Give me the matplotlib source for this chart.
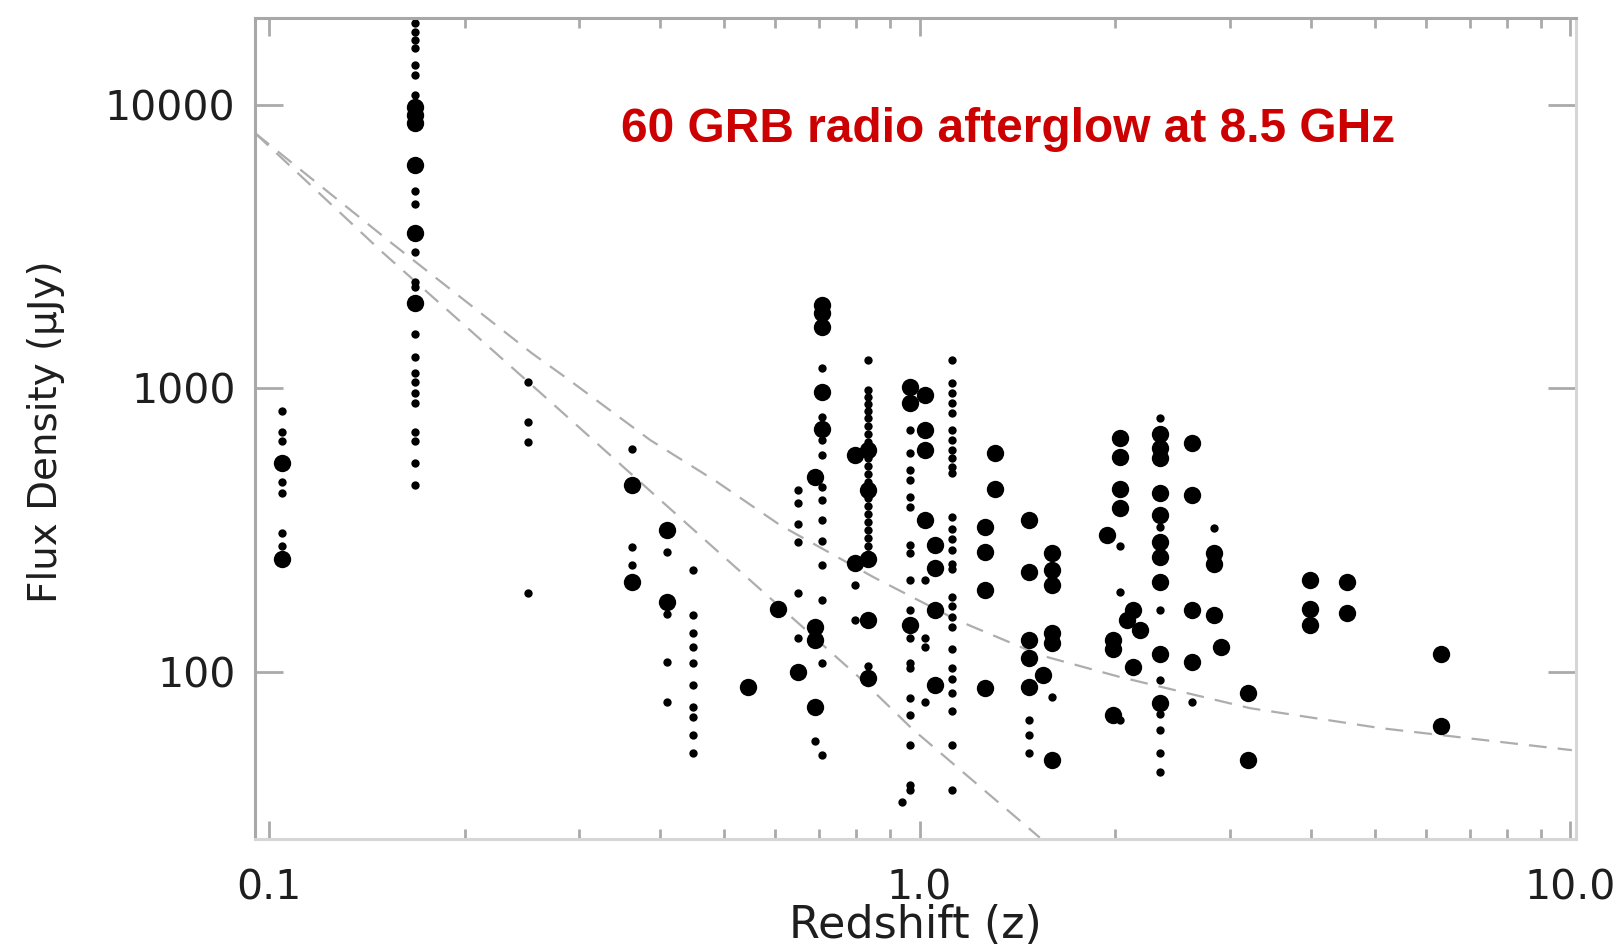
import matplotlib.pyplot as plt
from matplotlib import font_manager
from matplotlib.ticker import LogLocator, NullFormatter, NullLocator

# large dots: redshift and 8.5 GHz flux density (uJy)
big_z = [0.105, 0.105,
         0.168, 0.168, 0.168, 0.168, 0.168, 0.168,
         0.362, 0.362, 0.409, 0.409, 0.545, 0.607, 0.650,
         0.692, 0.692, 0.692, 0.692,
         0.708, 0.708, 0.708, 0.708, 0.708,
         0.797, 0.797,
         0.832, 0.832, 0.832, 0.832, 0.832,
         0.968, 0.968, 0.968,
         1.02, 1.02, 1.02, 1.02,
         1.057, 1.057, 1.057, 1.057,
         1.262, 1.262, 1.262, 1.262,
         1.307, 1.307,
         1.474, 1.474, 1.474, 1.474, 1.474,
         1.549,
         1.599, 1.599, 1.599, 1.599, 1.599, 1.599,
         1.942, 1.984, 1.984, 1.984,
         2.034, 2.034, 2.034, 2.034,
         2.085, 2.13, 2.13, 2.18,
         2.34, 2.34, 2.34, 2.34, 2.34, 2.34, 2.34, 2.34, 2.34, 2.34,
         2.62, 2.62, 2.62, 2.62,
         2.83, 2.83, 2.83, 2.91,
         3.20, 3.20,
         3.98, 3.98, 3.98,
         4.53, 4.53,
         6.33, 6.33]
big_flux = [544, 250,
            9860, 9220, 8610, 6140, 3525, 1995,
            456, 208, 316, 177, 88.5, 167, 100,
            488, 144, 129, 75,
            1968, 1850, 1651, 973, 717,
            582, 242,
            606, 438, 250, 152, 95,
            1015, 885, 146,
            947, 713, 606, 343,
            280, 232, 165, 90,
            325, 265, 195, 87.4,
            590, 443,
            343, 225, 129, 111.5, 88.5,
            97.3,
            262, 229, 202, 137, 126, 48.8,
            304, 129, 120, 70.3,
            666, 574, 443, 377,
            152, 165, 104, 141,
            693, 614, 566, 426, 357, 288, 255, 208, 116, 77.3,
            640, 420, 165, 108.5,
            262, 241, 158, 122,
            84, 48.8,
            211, 167, 146,
            208, 161,
            116, 64.2]

# small dots
small_z = [0.105, 0.105, 0.105, 0.105, 0.105, 0.105, 0.105,
           0.168, 0.168, 0.168, 0.168, 0.168, 0.168, 0.168, 0.168, 0.168, 0.168, 0.168,
           0.168, 0.168, 0.168, 0.168, 0.168, 0.168, 0.168, 0.168, 0.168, 0.168, 0.168,
           0.25, 0.25, 0.25, 0.25,
           0.362, 0.362, 0.362,
           0.409, 0.409, 0.409, 0.409,
           0.449, 0.449, 0.449, 0.449, 0.449, 0.449, 0.449, 0.449, 0.449, 0.449,
           0.650, 0.650, 0.650, 0.650, 0.650, 0.650,
           0.692,
           0.708, 0.708, 0.708, 0.708, 0.708, 0.708, 0.708, 0.708, 0.708, 0.708, 0.708, 0.708,
           0.797, 0.797,
           0.832, 0.832, 0.832, 0.832, 0.832, 0.832, 0.832, 0.832, 0.832, 0.832, 0.832, 0.832,
           0.832, 0.832, 0.832, 0.832, 0.832, 0.832, 0.832, 0.832, 0.832, 0.832, 0.832, 0.832,
           0.94,
           0.968, 0.968, 0.968, 0.968, 0.968, 0.968, 0.968, 0.968, 0.968,
           0.968, 0.968, 0.968, 0.968, 0.968, 0.968, 0.968, 0.968, 0.968,
           1.02, 1.02, 1.02, 1.02,
           1.12, 1.12, 1.12, 1.12, 1.12, 1.12, 1.12, 1.12, 1.12, 1.12, 1.12, 1.12, 1.12, 1.12,
           1.12, 1.12, 1.12, 1.12, 1.12, 1.12, 1.12, 1.12, 1.12, 1.12, 1.12, 1.12, 1.12, 1.12,
           1.474, 1.474, 1.474,
           1.599,
           2.034, 2.034, 2.034,
           2.34, 2.34, 2.34, 2.34, 2.34, 2.34, 2.34, 2.34,
           2.62,
           2.83]
small_flux = [830, 700, 650, 468, 426, 308, 278,
              19500, 18150, 16950, 15850, 13840, 12760, 10840, 4985, 4480, 3035, 2380,
              2285, 1553, 1294, 1130, 1055, 960, 885, 700, 650, 545, 455,
              1055, 760, 646, 189,
              611, 276, 238,
              265, 160, 108, 78,
              229, 158, 137, 122, 107, 90, 75, 69, 60, 51.5,
              437, 395, 331, 288, 189, 132,
              57,
              1177, 794, 657, 582, 450, 403, 343, 290, 238, 179, 107, 51,
              202, 152,
              1259, 986, 930, 880, 830, 786, 737, 690, 647, 606, 568, 532,
              499, 467, 438, 410, 385, 360, 338, 316, 297, 278, 260, 105,
              34.8,
              713, 590, 515, 475, 415, 382, 280, 262, 211,
              165, 132, 107, 103.5, 80.6, 70.3, 55.1, 39.8, 38.2,
              211, 132, 122, 78,
              1259, 1042, 960, 885, 816, 713, 658, 606, 568, 530, 503, 351, 320, 295,
              269, 241, 230, 183, 170, 156, 144, 120, 103, 94, 84, 72.7, 55.1, 38.2,
              67.6, 59.8, 51.5,
              81.7,
              278, 192, 67.6,
              784, 325, 165, 93.6, 71.1, 62.5, 51.5, 44.2,
              78,
              321]

# the two dashed flux curves
upper_z = [0.0954, 0.1547, 0.2539, 0.2873, 0.3858, 0.4884, 0.611, 0.849,
           1.143, 1.532, 2.034, 3.22, 5.10, 10.05]
upper_flux = [7946, 3250, 1330, 1085, 657, 468, 329, 216,
              152, 114.5, 95.8, 74.4, 63.3, 52.9]
lower_z = [0.0954, 0.1493, 0.2692, 0.5, 0.806, 0.973, 1.189, 1.53]
lower_flux = [7946, 3035, 910, 255, 96, 63.1, 42.6, 26]

x_ticks = [0.1, 1, 10]
x_labels = ['0.1', '1.0', '10.0']
y_ticks = [100, 1000, 10000]
y_labels = ['100', '1000', '10000']

text_color = '#1e1e1e'

fig = plt.figure(figsize=(16.22, 9.49), dpi=100)
ax = fig.add_axes([0.1572, 0.1159, 0.8143, 0.8648])
ax.set_xscale('log')
ax.set_yscale('log')
ax.set_xlim(0.0953, 10.19)
ax.set_ylim(25.7, 20230)

ax.plot(upper_z, upper_flux, color='#adadad', lw=1.6, dashes=(8, 5), zorder=1)
ax.plot(lower_z, lower_flux, color='#adadad', lw=1.6, dashes=(8, 5), zorder=1)
ax.plot(small_z, small_flux, 'o', color='black', ms=6, mew=0, zorder=2)
ax.plot(big_z, big_flux, 'o', color='black', ms=12.5, mew=0, zorder=3)

ax.set_xticks(x_ticks)
ax.set_xticklabels(x_labels)
ax.xaxis.set_minor_locator(LogLocator(base=10, subs=range(2, 10)))
ax.xaxis.set_minor_formatter(NullFormatter())
ax.set_yticks(y_ticks)
ax.set_yticklabels(y_labels)
ax.yaxis.set_minor_locator(NullLocator())

ax.tick_params(which='both', direction='in', top=True, right=True,
               color='#aaaaaa', labelcolor=text_color, labelsize=29.5)
ax.tick_params(axis='y', which='major', length=20, width=2, pad=14)
ax.tick_params(axis='x', which='major', length=13, width=2, pad=21)
ax.tick_params(axis='x', which='minor', length=7, width=2)

for side in ['left', 'top']:
    ax.spines[side].set_color('#a8a8a8')
    ax.spines[side].set_linewidth(2.2)
for side in ['bottom', 'right']:
    ax.spines[side].set_color('#d6d6d6')
    ax.spines[side].set_linewidth(2.2)

ax.text(0.5705, 0.864, '60 GRB radio afterglow at 8.5 GHz', transform=ax.transAxes,
        ha='center', va='center', color='#cc0000', fontsize=34.5,
        fontweight='bold', family='Liberation Sans')

# narrow face for the vertical label if it is available
try:
    font_manager.findfont('Liberation Sans Narrow', fallback_to_default=False)
    ylab_family, ylab_size = 'Liberation Sans Narrow', 37
except ValueError:
    ylab_family, ylab_size = 'DejaVu Sans', 28

fig.text(46 / 1622, 1 - 432 / 949, 'Flux Density (μJy)', rotation=90,
         ha='center', va='center', fontsize=ylab_size, family=ylab_family,
         color=text_color)
fig.text(0.5644, 1 - 926 / 949, 'Redshift (z)', ha='center', va='center',
         fontsize=32, color=text_color)

fig.savefig('out.png', dpi=100)
